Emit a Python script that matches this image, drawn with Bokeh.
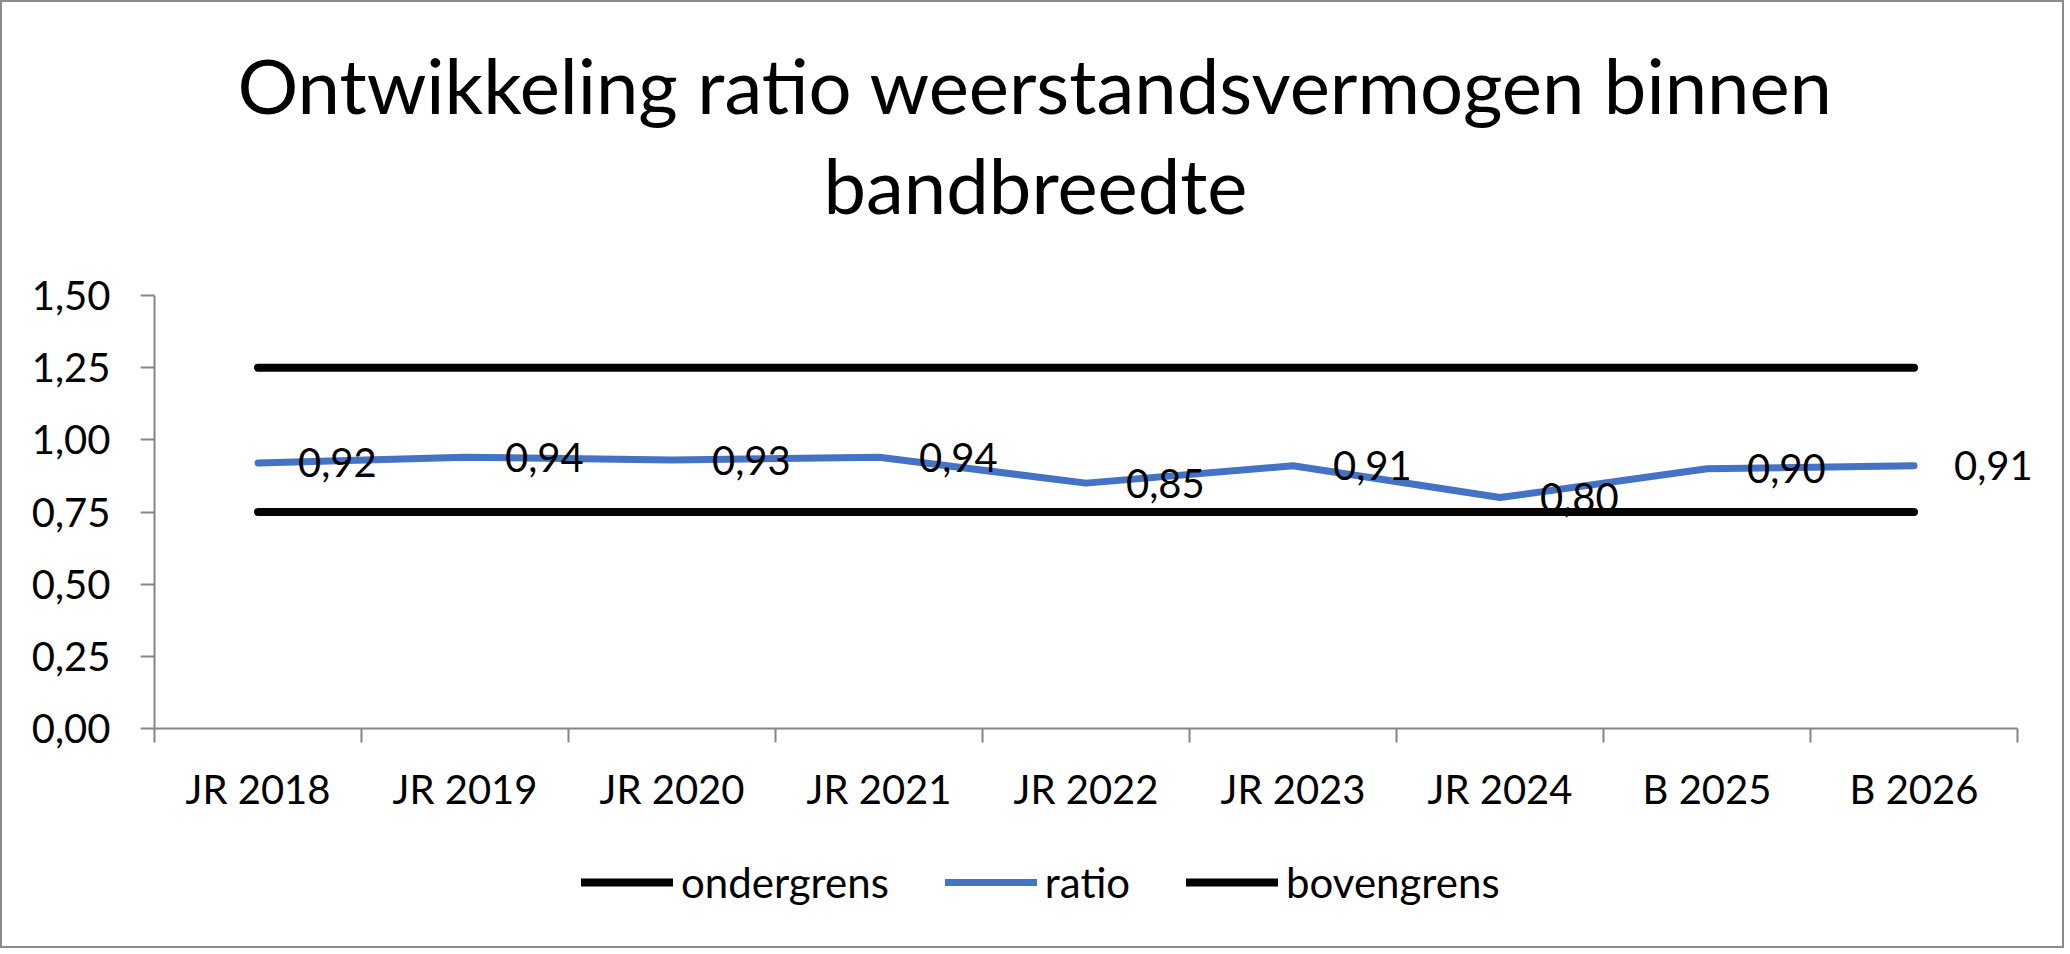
from bokeh.plotting import figure
from bokeh.models import Range1d, FixedTicker, LabelSet, Label, Legend, LegendItem, ColumnDataSource
from bokeh.core.properties import value
from bokeh.embed import file_html
from bokeh.resources import INLINE

# ---- data ----
categories = ["JR 2018", "JR 2019", "JR 2020", "JR 2021", "JR 2022",
              "JR 2023", "JR 2024", "B 2025", "B 2026"]
ratio = [0.92, 0.94, 0.93, 0.94, 0.85, 0.91, 0.80, 0.90, 0.91]
ondergrens = [0.75] * 9
bovengrens = [1.25] * 9
y_ticks = [0.0, 0.25, 0.5, 0.75, 1.0, 1.25, 1.5]
y_tick_labels = ["0,00", "0,25", "0,50", "0,75", "1,00", "1,25", "1,50"]
title_lines = ["Ontwikkeling ratio weerstandsvermogen binnen", "bandbreedte"]

# ---- layout (page pixel geometry) ----
W, H = 2064, 948
OFF = 2  # border
L, R, T, B = 154, 2017, 295, 728   # axis box on the page
FONT = "Lato"
GRAY = "#868686"
BLUE = "#4472C4"

n = len(categories)
x_pos = [i + 0.5 for i in range(n)]
edges = [float(i) for i in range(n + 1)]
ymin, ymax = y_ticks[0], y_ticks[-1]
ppx = (R - L) / n
ppy = (B - T) / (ymax - ymin)

# the frame covers the whole canvas; axes sit at fixed data locations
x_range = Range1d(-(L - OFF) / ppx, (W + OFF - L) / ppx)
y_range = Range1d(ymin - ((H + OFF) - B) / ppy, ymax + (T - OFF) / ppy)

p = figure(width=W, height=H, output_backend="svg", toolbar_location=None,
           x_range=x_range, y_range=y_range,
           min_border_left=0, min_border_right=0, min_border_top=0, min_border_bottom=0)
p.styles = {"border": "2px solid #8c8c8c"}
p.outline_line_color = None
p.xgrid.grid_line_color = None
p.ygrid.grid_line_color = None
p.background_fill_color = "white"
p.border_fill_color = "white"

# y axis
ya = p.yaxis[0]
ya.fixed_location = 0
ya.bounds = (ymin, ymax)
ya.ticker = FixedTicker(ticks=y_ticks)
ya.major_label_overrides = dict(zip(y_ticks, y_tick_labels))
ya.axis_line_color = GRAY
ya.axis_line_width = 2
ya.major_tick_line_color = GRAY
ya.major_tick_line_width = 2
ya.major_tick_out = 14
ya.major_tick_in = 0
ya.minor_tick_line_color = None
ya.major_label_standoff = 30
ya.major_label_text_font = FONT
ya.major_label_text_font_size = "40px"
ya.major_label_text_color = "black"

# x axis
xa = p.xaxis[0]
xa.fixed_location = ymin
xa.bounds = (0, n)
xa.ticker = FixedTicker(ticks=x_pos, minor_ticks=edges)
xa.major_label_overrides = dict(zip(x_pos, categories))
xa.axis_line_color = GRAY
xa.axis_line_width = 2
xa.major_tick_line_color = None
xa.major_tick_out = 0
xa.major_tick_in = 0
xa.minor_tick_line_color = GRAY
xa.minor_tick_line_width = 2
xa.minor_tick_out = 14
xa.minor_tick_in = 0
xa.major_label_standoff = 22
xa.major_label_text_font = FONT
xa.major_label_text_font_size = "40px"
xa.major_label_text_color = "black"

src = ColumnDataSource(dict(x=x_pos, ratio=ratio, onder=ondergrens, boven=bovengrens,
                            lab=[f"{v:.2f}".replace(".", ",") for v in ratio]))

r_onder = p.line("x", "onder", source=src, line_color="black", line_width=8, line_cap="round")
r_ratio = p.line("x", "ratio", source=src, line_color=BLUE, line_width=7,
                 line_cap="round", line_join="round")
r_boven = p.line("x", "boven", source=src, line_color="black", line_width=8, line_cap="round")

labels = LabelSet(x="x", y="ratio", text="lab", source=src, x_offset=40, y_offset=0,
                  text_baseline="middle", text_align="left",
                  text_font=value(FONT), text_font_size="40px", text_color="black")
p.add_layout(labels)

# title (two centered lines over the whole canvas)
cx = (1035 - L) / ppx
for txt, base in zip(title_lines, [84, 184]):
    p.add_layout(Label(x=cx, y=ymin + (B - base) / ppy, text=txt, text_align="center",
                       text_baseline="alphabetic", text_font=FONT,
                       text_font_size="76px", text_color="black"))

legend = Legend(items=[LegendItem(label="ondergrens", renderers=[r_onder]),
                       LegendItem(label="ratio", renderers=[r_ratio]),
                       LegendItem(label="bovengrens", renderers=[r_boven])],
                orientation="horizontal", location=(581 - OFF, (H + OFF) - 907),
                glyph_width=92, glyph_height=40, label_standoff=8, spacing=56,
                padding=0, margin=0, border_line_color=None, background_fill_alpha=0,
                label_text_font=FONT, label_text_font_size="42px", label_text_color="black")
p.add_layout(legend)

open("out.html", "w").write(file_html(p, INLINE))
